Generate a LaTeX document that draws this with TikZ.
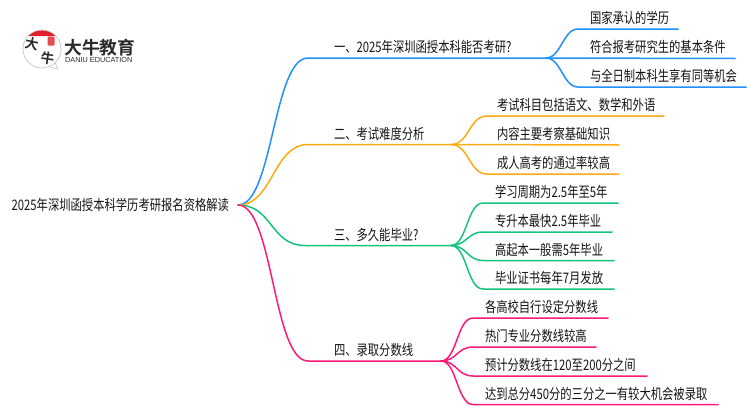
\documentclass[tikz,border=0pt]{standalone}
\usepackage{fontspec}
\setmainfont[FakeStretch=0.78]{Noto Sans CJK SC}
\newfontfamily\logofont[BoldFont={Noto Sans CJK SC Bold}]{Noto Sans CJK SC}
\newfontfamily\latinfont{Liberation Sans}
\definecolor{bluelink}{HTML}{1E90FF}
\definecolor{orangelink}{HTML}{FFAA14}
\definecolor{greenlink}{HTML}{14C47A}
\definecolor{pinklink}{HTML}{FF1A7A}
\definecolor{logored}{HTML}{E0202A}
\definecolor{logotext}{HTML}{2B2B2B}
\tikzset{
  lab/.style={anchor=base west, yshift=-.5pt, inner sep=0pt, outer sep=0pt, text=black!92, font=\fontsize{14.5pt}{15pt}\selectfont},
  rootlab/.style={anchor=east, inner xsep=9pt, inner ysep=0pt, outer sep=0pt, text=black!92, font=\fontsize{14.5pt}{15pt}\selectfont},
  link/.style={line width=1.5pt, line cap=round},
}
\begin{document}
\begin{tikzpicture}[x=1pt,y=-1pt]
\useasboundingbox (0,0) rectangle (750,410);

\node[circle, draw=black!25, line width=.6pt, minimum size=38pt, inner sep=0pt] (bubble) at (42,49){};
\draw[black!25, line width=.6pt] (49,66.5) -- (57.5,69) -- (55,62);
\fill[logored] (28.5,36) arc[start angle=225, end angle=315, radius=19] -- cycle;
\node[inner sep=0pt, rotate=-12, text=logotext, font=\logofont\bfseries\fontsize{13.5pt}{14pt}\selectfont] (logoda) at (32,44){大};
\node[inner sep=0pt, rotate=-8, text=logotext, font=\logofont\bfseries\fontsize{13.5pt}{14pt}\selectfont] (logoniu) at (47.5,58.5){牛};
\node[fill=logored!80, rounded corners=1pt, minimum width=7pt, minimum height=9pt, inner sep=0pt] (logoseal) at (51,41){};
\node[anchor=west, inner sep=0pt, text=logotext, font=\logofont\bfseries\fontsize{17.8pt}{18pt}\selectfont] (logoname) at (64,47.5){大牛教育};
\node[anchor=west, inner sep=0pt, text=logotext, font=\latinfont\fontsize{7.3pt}{8pt}\selectfont] (logosub) at (65,60){DANIU EDUCATION};

\node[rootlab] (root) at (238,205){2025年深圳函授本科学历考研报名资格解读};

\coordinate (n1k) at (308,58);
\coordinate (n1e) at (546,58);
\node[lab] (n1) at (334,52){一、2025年深圳函授本科能否考研?};
\coordinate (n1c1k) at (578,29);
\coordinate (n1c1e) at (678,29);
\node[lab] (n1c1) at (590,23){国家承认的学历};
\coordinate (n1c2e) at (735,58.5);
\node[lab] (n1c2) at (590,52){符合报考研究生的基本条件};
\coordinate (n1c3k) at (578,87);
\coordinate (n1c3e) at (746,87);
\node[lab] (n1c3) at (590,81){与全日制本科生享有同等机会};

\coordinate (n2k) at (308,144.5);
\coordinate (n2e) at (451,144.5);
\node[lab] (n2) at (334,138.5){二、考试难度分析};
\coordinate (n2c1k) at (487,116);
\coordinate (n2c1e) at (664,116);
\node[lab] (n2c1) at (497,110){考试科目包括语文、数学和外语};
\coordinate (n2c2e) at (619,145);
\node[lab] (n2c2) at (497,139){内容主要考察基础知识};
\coordinate (n2c3k) at (487,174);
\coordinate (n2c3e) at (619,174);
\node[lab] (n2c3) at (497,168){成人高考的通过率较高};

\coordinate (n3k) at (305,245.5);
\coordinate (n3e) at (451,245.5);
\node[lab] (n3) at (334,239.5){三、多久能毕业?};
\coordinate (n3c1k) at (483,203);
\coordinate (n3c1e) at (618,203);
\node[lab] (n3c1) at (495,197){学习周期为2.5年至5年};
\coordinate (n3c2k) at (483,232);
\coordinate (n3c2e) at (612,232);
\node[lab] (n3c2) at (495,226){专升本最快2.5年毕业};
\coordinate (n3c3k) at (483,260.5);
\coordinate (n3c3e) at (614,260.5);
\node[lab] (n3c3) at (495,254.5){高起本一般需5年毕业};
\coordinate (n3c4k) at (483,289);
\coordinate (n3c4e) at (614,289);
\node[lab] (n3c4) at (495,283){毕业证书每年7月发放};

\coordinate (n4k) at (308,361);
\coordinate (n4e) at (441,361);
\node[lab] (n4) at (334,355){四、录取分数线};
\coordinate (n4c1k) at (473,318);
\coordinate (n4c1e) at (608,318);
\node[lab] (n4c1) at (485,312){各高校自行设定分数线};
\coordinate (n4c2k) at (473,347);
\coordinate (n4c2e) at (596,347);
\node[lab] (n4c2) at (485,341){热门专业分数线较高};
\coordinate (n4c3k) at (473,376);
\coordinate (n4c3e) at (647,376);
\node[lab] (n4c3) at (485,370){预计分数线在120至200分之间};
\coordinate (n4c4k) at (473,404.5);
\coordinate (n4c4e) at (718,404.5);
\node[lab] (n4c4) at (485,398.5){达到总分450分的三分之一有较大机会被录取};

\draw[link, bluelink] (root.east) .. controls +(35,0) and +(-35,0) .. (n1k) -- (n1e);
\draw[link, bluelink] (n1e) .. controls +(15,0) and +(-15,0) .. (n1c1k) -- (n1c1e);
\draw[link, bluelink] (n1e) -- (n1c2e);
\draw[link, bluelink] (n1e) .. controls +(15,0) and +(-15,0) .. (n1c3k) -- (n1c3e);

\draw[link, orangelink] (root.east) .. controls +(35,0) and +(-35,0) .. (n2k) -- (n2e);
\draw[link, orangelink] (n2e) .. controls +(18,0) and +(-18,0) .. (n2c1k) -- (n2c1e);
\draw[link, orangelink] (n2e) -- (n2c2e);
\draw[link, orangelink] (n2e) .. controls +(18,0) and +(-18,0) .. (n2c3k) -- (n2c3e);

\draw[link, greenlink] (root.east) .. controls +(35,0) and +(-35,0) .. (n3k) -- (n3e);
\draw[link, greenlink] (n3e) .. controls +(16,0) and +(-16,0) .. (n3c1k) -- (n3c1e);
\draw[link, greenlink] (n3e) .. controls +(16,0) and +(-16,0) .. (n3c2k) -- (n3c2e);
\draw[link, greenlink] (n3e) .. controls +(16,0) and +(-16,0) .. (n3c3k) -- (n3c3e);
\draw[link, greenlink] (n3e) .. controls +(16,0) and +(-16,0) .. (n3c4k) -- (n3c4e);

\draw[link, pinklink] (root.east) .. controls +(35,0) and +(-35,0) .. (n4k) -- (n4e);
\draw[link, pinklink] (n4e) .. controls +(16,0) and +(-16,0) .. (n4c1k) -- (n4c1e);
\draw[link, pinklink] (n4e) .. controls +(16,0) and +(-16,0) .. (n4c2k) -- (n4c2e);
\draw[link, pinklink] (n4e) .. controls +(16,0) and +(-16,0) .. (n4c3k) -- (n4c3e);
\draw[link, pinklink] (n4e) .. controls +(16,0) and +(-16,0) .. (n4c4k) -- (n4c4e);

\end{tikzpicture}
\end{document}
